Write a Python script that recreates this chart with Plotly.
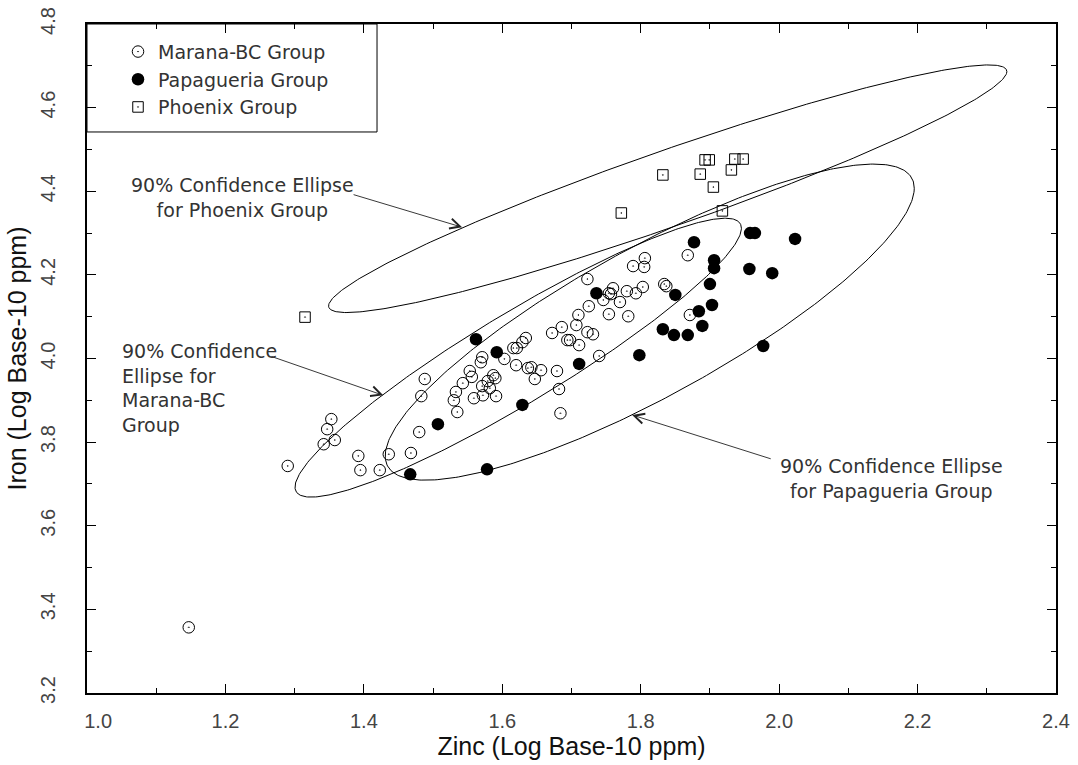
import numpy as np
import plotly.graph_objects as go

# ---------------- data (log10 ppm) ----------------
marana_zn = [1.147, 1.290, 1.353, 1.347, 1.342, 1.358, 1.392, 1.395, 1.423, 1.436,
             1.468, 1.480, 1.483, 1.488, 1.530, 1.533, 1.535, 1.543, 1.553, 1.556,
             1.559, 1.571, 1.569, 1.571, 1.572, 1.579, 1.582, 1.587, 1.590, 1.591,
             1.603, 1.616, 1.621, 1.629, 1.634, 1.620, 1.637, 1.642, 1.647, 1.656,
             1.679, 1.682, 1.684, 1.672, 1.686, 1.694, 1.698, 1.711, 1.707, 1.710,
             1.723, 1.731, 1.740, 1.725, 1.754, 1.746, 1.754, 1.757, 1.760, 1.770,
             1.780, 1.793, 1.803, 1.782, 1.723, 1.834, 1.837, 1.871, 1.789, 1.805,
             1.806, 1.868]
marana_fe = [3.357, 3.743, 3.855, 3.831, 3.795, 3.805, 3.767, 3.733, 3.733, 3.771,
             3.774, 3.824, 3.910, 3.951, 3.900, 3.920, 3.872, 3.941, 3.970, 3.956,
             3.905, 4.003, 3.991, 3.934, 3.912, 3.946, 3.929, 3.960, 3.953, 3.910,
             3.999, 4.025, 4.025, 4.039, 4.049, 3.984, 3.977, 3.979, 3.951, 3.972,
             3.970, 3.927, 3.869, 4.061, 4.075, 4.044, 4.044, 4.032, 4.080, 4.104,
             4.063, 4.058, 4.006, 4.125, 4.106, 4.140, 4.156, 4.154, 4.168, 4.135,
             4.161, 4.156, 4.171, 4.101, 4.190, 4.178, 4.173, 4.104, 4.221, 4.219,
             4.240, 4.247]

papag_zn = [1.467, 1.507, 1.562, 1.578, 1.592, 1.629, 1.711, 1.736, 1.798, 1.832,
            1.848, 1.850, 1.868, 1.877, 1.884, 1.889, 1.900, 1.903, 1.906, 1.906,
            1.957, 1.958, 1.965, 1.977, 1.990, 2.023]
papag_fe = [3.723, 3.843, 4.046, 3.735, 4.015, 3.889, 3.987, 4.156, 4.008, 4.070,
            4.056, 4.152, 4.056, 4.278, 4.113, 4.078, 4.178, 4.128, 4.235, 4.216,
            4.214, 4.300, 4.300, 4.030, 4.204, 4.286]

phoenix_zn = [1.315, 1.772, 1.832, 1.886, 1.893, 1.899, 1.931, 1.936, 1.948, 1.905, 1.918]
phoenix_fe = [4.099, 4.348, 4.439, 4.441, 4.475, 4.475, 4.451, 4.477, 4.477, 4.410, 4.353]

# 90% confidence ellipses: centre, x half-extent, y half-extent, correlation
ellipse_names = ["Phoenix", "Marana-BC", "Papagueria"]
ellipse_cx = [1.839, 1.623, 1.813]
ellipse_cy = [4.406, 4.002, 4.087]
ellipse_rx = [0.490, 0.3225, 0.3822]
ellipse_ry = [0.2961, 0.3335, 0.3780]
ellipse_rho = [0.9462, 0.9277, 0.847]

x_ticks = [1.0, 1.2, 1.4, 1.6, 1.8, 2.0, 2.2, 2.4]
x_ticktext = ["\u00a0\u00a0\u00a0\u00a01.0", "1.2", "1.4", "1.6", "1.8", "2.0", "2.2", "2.4"]
y_ticks = [3.2, 3.4, 3.6, 3.8, 4.0, 4.2, 4.4, 4.6, 4.8]

TICKFONT = "Liberation Sans"
TEXTFONT = "DejaVu Sans"
TXT = "#333333"

fig = go.Figure()

t = np.linspace(0, 2 * np.pi, 400)
for cx, cy, rx, ry, rho in zip(ellipse_cx, ellipse_cy, ellipse_rx, ellipse_ry, ellipse_rho):
    ex = cx + rx * np.cos(t)
    ey = cy + ry * (rho * np.cos(t) + np.sqrt(1 - rho ** 2) * np.sin(t))
    fig.add_trace(go.Scatter(x=ex, y=ey, mode="lines", line=dict(color="black", width=1),
                             showlegend=False, hoverinfo="skip"))

fig.add_trace(go.Scatter(x=marana_zn, y=marana_fe, mode="markers", name="Marana-BC Group",
                         marker=dict(symbol="circle-open-dot", size=11.5, color="black",
                                     line=dict(width=1, color="black"))))
fig.add_trace(go.Scatter(x=papag_zn, y=papag_fe, mode="markers", name="Papagueria Group",
                         marker=dict(symbol="circle", size=12.5, color="black",
                                     line=dict(width=0))))
fig.add_trace(go.Scatter(x=phoenix_zn, y=phoenix_fe, mode="markers", name="Phoenix Group",
                         marker=dict(symbol="square-open-dot", size=10.5, color="black",
                                     line=dict(width=1, color="black"))))

ann_font = dict(family=TEXTFONT, size=19, color=TXT)
annotations = [
    dict(x=1.542, y=4.314, ax=1.383, ay=4.393, axref="x", ayref="y", xref="x", yref="y",
         text="", showarrow=True, arrowhead=5, arrowsize=2.2, arrowwidth=0.9, arrowcolor="#222"),
    dict(x=1.428, y=3.912, ax=1.2645, ay=4.006, axref="x", ayref="y", xref="x", yref="y",
         text="", showarrow=True, arrowhead=5, arrowsize=2.2, arrowwidth=0.9, arrowcolor="#222"),
    dict(x=1.7876, y=3.865, ax=1.990, ay=3.759, axref="x", ayref="y", xref="x", yref="y",
         text="", showarrow=True, arrowhead=5, arrowsize=2.2, arrowwidth=0.9, arrowcolor="#222"),
    dict(x=1.224, y=4.386, xref="x", yref="y", showarrow=False, align="center",
         text="90% Confidence Ellipse<br>for Phoenix Group", font=ann_font),
    dict(x=1.0477, y=3.929, xref="x", yref="y", showarrow=False, align="left",
         xanchor="left", text="90% Confidence<br>Ellipse for<br>Marana-BC<br>Group", font=ann_font),
    dict(x=2.163, y=3.714, xref="x", yref="y", showarrow=False, align="center",
         text="90% Confidence Ellipse<br>for Papagueria Group", font=ann_font),
]

fig.update_layout(
    width=1078, height=765,
    margin=dict(l=87, r=22, t=24, b=72),
    plot_bgcolor="white", paper_bgcolor="white",
    font=dict(family=TEXTFONT, color=TXT),
    annotations=annotations,
    legend=dict(x=0.032, y=0.987, xanchor="left", yanchor="top",
                font=dict(family=TEXTFONT, size=19, color=TXT),
                bgcolor="rgba(0,0,0,0)", borderwidth=0, tracegroupgap=0),
    shapes=[dict(type="rect", xref="paper", yref="paper", x0=0, x1=0.2993, y0=0.8386, y1=1,
                 line=dict(color="black", width=1))],
)

fig.update_xaxes(
    range=[1.0, 2.4], tickvals=x_ticks, ticktext=x_ticktext, automargin=False,
    showline=True, linewidth=2, linecolor="black", mirror="ticks",
    ticks="inside", ticklen=9, tickwidth=1, tickcolor="black",
    minor=dict(ticks="inside", ticklen=5, dtick=0.1, tickcolor="black", tickwidth=1),
    showgrid=False, zeroline=False, ticklabelstandoff=9,
    tickfont=dict(family=TICKFONT, size=20, color="#444"),
    title=dict(text="Zinc (Log Base-10 ppm)", font=dict(family=TICKFONT, size=25, color="#111"), standoff=2),
)
fig.update_yaxes(
    range=[3.2, 4.8], tickvals=y_ticks, tickformat=".1f", tickangle=-90, automargin=False,
    showline=True, linewidth=2, linecolor="black", mirror="ticks",
    ticks="inside", ticklen=9, tickwidth=1, tickcolor="black",
    minor=dict(ticks="inside", ticklen=5, dtick=0.1, tickcolor="black", tickwidth=1),
    showgrid=False, zeroline=False, ticklabelstandoff=22,
    tickfont=dict(family=TICKFONT, size=20, color="#444"),
    title=dict(text="Iron (Log Base-10 ppm)", font=dict(family=TICKFONT, size=25, color="#111"), standoff=3),
)

fig.write_html("out.html")
